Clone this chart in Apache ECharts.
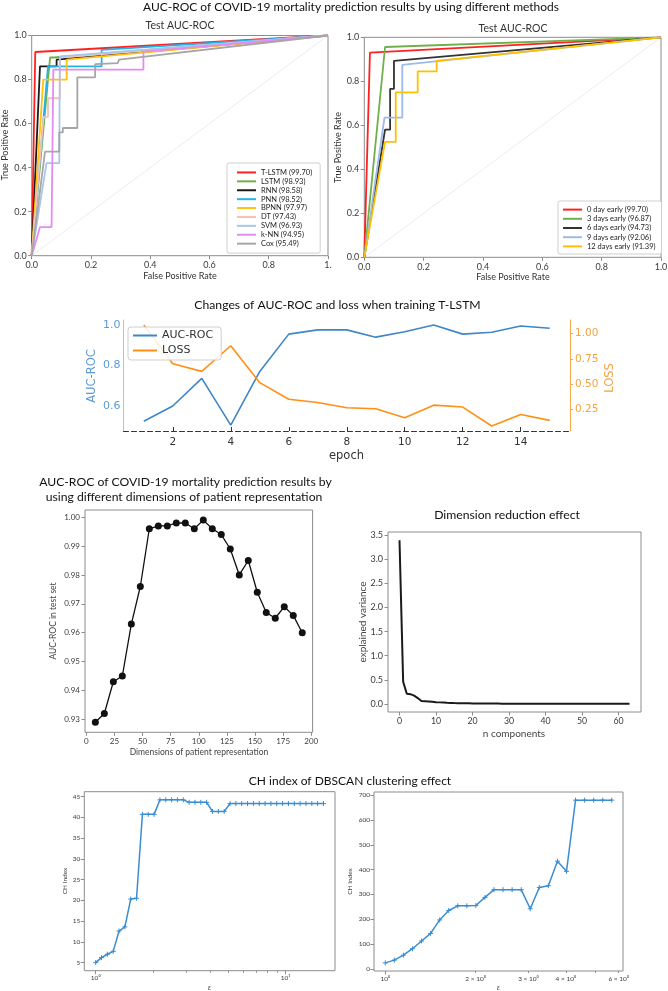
<!DOCTYPE html>
<html>
<head>
<meta charset="utf-8">
<title>COVID-19 mortality prediction figure</title>
<script src="https://cdn.jsdelivr.net/npm/echarts@6.0.0/dist/echarts.min.js"></script>
<style>
html,body{margin:0;padding:0;background:#fff;}
#chart{width:668px;height:991px;}
</style>
</head>
<body>
<div id="chart"></div>
<script>
// ================= DATA =================
const rocChance = [[0, 0], [1, 1]];

const methodNames = ['T-LSTM (99.70)', 'LSTM (98.93)', 'RNN (98.58)', 'PNN (98.52)', 'BPNN (97.97)', 'DT (97.43)', 'SVM (96.93)', 'k-NN (94.95)', 'Cox (95.49)'];
const rocTLSTM = [[0, 0], [0.012, 0.925], [1, 1]];
const rocLSTM = [[0, 0], [0.062, 0.9], [0.075, 0.9], [1, 1]];
const rocRNN = [[0, 0], [0.028, 0.86], [0.084, 0.86], [0.084, 0.89], [1, 1]];
const rocPNN = [[0, 0], [0.055, 0.86], [0.236, 0.86], [0.236, 0.935], [1, 1]];
const rocBPNN = [[0, 0], [0.039, 0.8], [0.118, 0.8], [0.118, 0.89], [1, 1]];
const rocDT = [[0, 0], [0.04, 0.63], [0.055, 0.63], [0.055, 0.715], [0.095, 0.715], [0.095, 0.9], [1, 1]];
const rocSVM = [[0, 0], [0.05, 0.42], [0.093, 0.42], [0.095, 0.905], [1, 1]];
const rocKNN = [[0, 0], [0.028, 0.13], [0.067, 0.13], [0.073, 0.845], [0.377, 0.845], [0.377, 0.927], [1, 1]];
const rocCox = [[0, 0], [0.045, 0.473], [0.093, 0.473], [0.093, 0.56], [0.105, 0.56], [0.105, 0.58], [0.154, 0.58], [0.154, 0.81], [0.214, 0.81], [0.214, 0.87], [0.29, 0.875], [0.295, 0.89], [1, 1]];

const earlyNames = ['0 day early (99.70)', '3 days early (96.87)', '6 days early (94.73)', '9 days early (92.06)', '12 days early (91.39)'];
const roc0d = [[0, 0], [0.019, 0.93], [1, 1]];
const roc3d = [[0, 0], [0.07, 0.956], [1, 1]];
const roc6d = [[0, 0], [0.07, 0.58], [0.087, 0.58], [0.087, 0.766], [0.1, 0.766], [0.1, 0.893], [1, 1]];
const roc9d = [[0, 0], [0.068, 0.635], [0.128, 0.635], [0.128, 0.875], [1, 1]];
const roc12d = [[0, 0], [0.07, 0.525], [0.106, 0.525], [0.106, 0.75], [0.18, 0.75], [0.18, 0.845], [0.244, 0.845], [0.244, 0.893], [1, 1]];

const epochs = [1, 2, 3, 4, 5, 6, 7, 8, 9, 10, 11, 12, 13, 14, 15];
const aucByEpoch = [0.523, 0.599, 0.736, 0.504, 0.77, 0.955, 0.976, 0.976, 0.940, 0.967, 1.0, 0.955, 0.964, 0.995, 0.984];
const lossByEpoch = [1.086, 0.70, 0.625, 0.88, 0.513, 0.348, 0.316, 0.263, 0.253, 0.164, 0.289, 0.27, 0.082, 0.197, 0.138];
const epochTicks = [2, 4, 6, 8, 10, 12, 14];
const aucTicks = [0.6, 0.8, 1.0];
const lossTicks = [0.25, 0.5, 0.75, 1.0];

const dims = [8, 16, 24, 32, 40, 48, 56, 64, 72, 80, 88, 96, 104, 112, 120, 128, 136, 144, 152, 160, 168, 176, 184, 192];
const aucByDim = [0.929, 0.932, 0.943, 0.945, 0.963, 0.976, 0.996, 0.997, 0.997, 0.998, 0.998, 0.996, 0.999, 0.996, 0.994, 0.989, 0.980, 0.985, 0.974, 0.967, 0.965, 0.969, 0.966, 0.960];
const dimTicks = [0, 25, 50, 75, 100, 125, 150, 175, 200];
const dimAucTicks = [0.93, 0.94, 0.95, 0.96, 0.97, 0.98, 0.99, 1.00];

const explainedVariance = [3.40, 0.46, 0.21, 0.20, 0.17, 0.12, 0.06, 0.055, 0.05, 0.045, 0.035, 0.03, 0.026, 0.022, 0.019, 0.016,
  0.014, 0.012, 0.011, 0.010, 0.009, 0.008, 0.007, 0.0065, 0.006, 0.0055, 0.005, 0.0045, 0.004, 0.0038, 0.0035, 0.0033,
  0.003, 0.0028, 0.0026, 0.0024, 0.0022, 0.002, 0.0019, 0.0018, 0.0017, 0.0016, 0.0015, 0.0014, 0.0013, 0.0012, 0.0011, 0.001,
  0.0009, 0.0008, 0.0007, 0.0006, 0.0005, 0.0005, 0.0004, 0.0004, 0.0003, 0.0003, 0.0002, 0.0002, 0.0001, 0.0001, 0.0001, 0.0];
const componentTicks = [0, 10, 20, 30, 40, 50, 60];
const varianceTicks = [0, 0.5, 1.0, 1.5, 2.0, 2.5, 3.0, 3.5];

const chLeftEps = [1.000, 1.073, 1.152, 1.237, 1.327, 1.425, 1.529, 1.641, 1.762, 1.891, 2.030, 2.179, 2.339, 2.510, 2.694, 2.892,
  3.104, 3.332, 3.577, 3.839, 4.121, 4.423, 4.748, 5.096, 5.470, 5.872, 6.303, 6.765, 7.262, 7.795, 8.367, 8.981,
  9.640, 10.35, 11.11, 11.92, 12.80, 13.74, 14.74, 15.83];
const chLeftVals = [5.0, 6.2, 7.0, 7.7, 12.6, 13.6, 20.3, 20.5, 40.7, 40.7, 40.7, 44.2, 44.2, 44.2, 44.2, 44.2,
  43.6, 43.6, 43.6, 43.6, 41.4, 41.4, 41.4, 43.3, 43.3, 43.3, 43.3, 43.3, 43.3, 43.3, 43.3, 43.3,
  43.3, 43.3, 43.3, 43.3, 43.3, 43.3, 43.3, 43.3];
const chLeftYTicks = [5, 10, 15, 20, 25, 30, 35, 40, 45];
const chLeftMajorX = [1, 10];
const chLeftMinorX = [2, 3, 4, 5, 6, 7, 8, 9];

const chRightEps = [1.000, 1.072, 1.149, 1.232, 1.321, 1.416, 1.518, 1.627, 1.744, 1.870, 2.004, 2.149, 2.303, 2.469, 2.647, 2.838,
  3.042, 3.261, 3.496, 3.748, 4.018, 4.307, 4.617, 4.950, 5.306, 5.688];
const chRightVals = [24, 35, 55, 81, 112, 143, 197, 235, 254, 254, 255, 288, 319, 319, 319, 319,
  242, 328, 335, 434, 393, 680, 680, 680, 680, 680];
const chRightYTicks = [0, 100, 200, 300, 400, 500, 600, 700];
const chRightMajorX = [1];
const chRightLabelX = [1, 2, 3, 4, 6];
const chRightMinorX = [2, 3, 4, 5, 6];

// ================= STYLE =================
const FRAME = '#8c8c8c';
const TICKTXT = '#3c3c3c';
const SANS = 'Lato';
const MPL = 'DejaVu Sans';
const methodColors = ['#ff2121', '#6fb04a', '#1a1a1a', '#25b3ee', '#ffc20e', '#f5c0b6', '#a8c6ec', '#e38cf2', '#a6a6a6'];
const earlyColors = ['#ff2121', '#6fb04a', '#333333', '#9dbbe8', '#ffc000'];
const AUC_BLUE = '#3f86c6';
const LOSS_ORANGE = '#ff8f17';
const CH_BLUE = '#3a8dd0';
const PLUS = 'path://M5,0L5,10M0,5L10,5';
const log10 = Math.log10;

function valAxis(o) {
  const a = {
    type: o.type || 'value', gridIndex: o.grid, min: o.min, max: o.max,
    splitLine: {show: false},
    axisLine: {show: !!o.line, onZero: false, lineStyle: o.line || {}},
    axisTick: {show: o.tick !== false, inside: !!o.inside, length: o.tickLen || 3.5,
      lineStyle: {color: o.tickColor || FRAME, width: 1}},
    axisLabel: {show: o.label !== false, margin: (o.margin != null ? o.margin : 5), fontSize: o.fs || 9,
      fontFamily: o.ff || SANS, color: o.color || TICKTXT, formatter: o.fmt, hideOverlap: false},
    axisPointer: {show: false}
  };
  if (o.interval) a.interval = o.interval;
  if (o.ticks) a.axisTick.customValues = o.ticks;
  if (o.labels) a.axisLabel.customValues = o.labels;
  if (o.position) a.position = o.position;
  return a;
}

const grids = [
  {left: 31.7, top: 35.5, width: 296.3, height: 220.2},
  {left: 364.3, top: 37.3, width: 296.7, height: 220},
  {left: 123.5, top: 320, width: 446.5, height: 111, show: false},
  {left: 85, top: 510, width: 227.6, height: 222.3},
  {left: 388, top: 532, width: 253, height: 180},
  {left: 84.3, top: 791.7, width: 250.7, height: 179},
  {left: 374, top: 792, width: 249, height: 179}
].map(g => Object.assign({show: true, borderColor: FRAME, borderWidth: 1, backgroundColor: 'transparent',
  containLabel: false, outerBoundsMode: 'none'}, g));

const fix1 = v => v.toFixed(1);
const fix2 = v => v.toFixed(2);

const xAxes = [
  valAxis({grid: 0, min: 0, max: 1, interval: 0.2, fmt: v => (v > 0.999 ? '1.' : v.toFixed(1))}),
  valAxis({grid: 1, min: 0, max: 1, interval: 0.2, fmt: fix1}),
  valAxis({grid: 2, min: 0.3, max: 15.7, ticks: epochTicks, labels: epochTicks, inside: true, tickLen: 4,
    tickColor: '#333', line: {color: '#333', type: [5, 3], width: 1}, fs: 10.5, ff: MPL, color: '#333', margin: 6,
    fmt: v => String(v)}),
  valAxis({grid: 3, min: -1.2, max: 201.2, ticks: dimTicks, labels: dimTicks, fs: 8, fmt: v => String(v)}),
  valAxis({grid: 4, min: -3.15, max: 66.15, ticks: componentTicks, labels: componentTicks, fs: 8.75, fmt: v => String(v)}),
  // CH left: real log axis carrying the data
  valAxis({grid: 5, type: 'log', min: 0.871, max: 18.2, tick: false, label: false, position: 'bottom'}),
  valAxis({grid: 5, min: log10(0.871), max: log10(18.2), position: 'bottom', ticks: chLeftMajorX.map(log10),
    labels: chLeftMajorX.map(log10), fs: 6.5, margin: 4,
    fmt: v => (Math.round(Math.pow(10, v)) === 1 ? '10\u2070' : '10\u00b9')}),
  valAxis({grid: 5, min: log10(0.871), max: log10(18.2), position: 'bottom', ticks: chLeftMinorX.map(log10),
    tickLen: 2, label: false}),
  // CH right
  valAxis({grid: 6, type: 'log', min: 0.917, max: 6.2, tick: false, label: false, position: 'bottom'}),
  valAxis({grid: 6, min: log10(0.917), max: log10(6.2), position: 'bottom', ticks: chRightMajorX.map(log10),
    labels: chRightLabelX.map(log10), fs: 6.5, margin: 4,
    fmt: v => { const n = Math.round(Math.pow(10, v)); return n === 1 ? '10\u2070' : n + ' \u00d7 10\u2070'; }}),
  valAxis({grid: 6, min: log10(0.917), max: log10(6.2), position: 'bottom', ticks: chRightMinorX.map(log10),
    tickLen: 2, label: false})
];

const yAxes = [
  valAxis({grid: 0, min: 0, max: 1, interval: 0.2, fmt: fix1}),
  valAxis({grid: 1, min: 0, max: 1, interval: 0.2, fmt: fix1}),
  valAxis({grid: 2, min: 0.475, max: 1.025, position: 'left', ticks: aucTicks, labels: aucTicks, tick: false,
    line: {color: '#a9c5e2', width: 1}, fs: 11, ff: MPL, color: '#5b9bd5', margin: 3, fmt: fix1}),
  valAxis({grid: 2, min: 0.032, max: 1.136, position: 'right', ticks: lossTicks, labels: lossTicks, tickLen: 3,
    tickColor: '#f7a848', line: {color: '#f7a848', width: 1}, fs: 10.5, ff: MPL, color: '#f5a340', margin: 5, fmt: fix2}),
  valAxis({grid: 3, min: 0.9255, max: 1.0025, ticks: dimAucTicks, labels: dimAucTicks, fs: 8, fmt: fix2}),
  valAxis({grid: 4, min: -0.17, max: 3.57, ticks: varianceTicks, labels: varianceTicks, fs: 9, fmt: fix1}),
  valAxis({grid: 5, min: 3.04, max: 46.16, ticks: chLeftYTicks, labels: chLeftYTicks, fs: 6.5, margin: 4, fmt: v => String(v)}),
  valAxis({grid: 6, min: -8.8, max: 712.8, ticks: chRightYTicks, labels: chRightYTicks, fs: 6.5, margin: 4, fmt: v => String(v)})
];

function line(name, data, color, xi, yi, extra) {
  return Object.assign({
    type: 'line', name, data, xAxisIndex: xi, yAxisIndex: yi, symbol: 'none', showSymbol: false,
    lineStyle: {width: 1.8, color}, itemStyle: {color}, silent: true, animation: false
  }, extra || {});
}

const methodData = [rocTLSTM, rocLSTM, rocRNN, rocPNN, rocBPNN, rocDT, rocSVM, rocKNN, rocCox];
const earlyData = [roc0d, roc3d, roc6d, roc9d, roc12d];

const series = [];
series.push(line('chance-1', rocChance, '#ececec', 0, 0, {lineStyle: {width: 1, color: '#ececec'}}));
methodNames.forEach((n, i) => series.push(line(n, methodData[i], methodColors[i], 0, 0)));
series.push(line('chance-2', rocChance, '#ececec', 1, 1, {lineStyle: {width: 1, color: '#ececec'}}));
earlyNames.forEach((n, i) => series.push(line(n, earlyData[i], earlyColors[i], 1, 1)));

series.push(line('AUC-ROC', epochs.map((e, i) => [e, aucByEpoch[i]]), AUC_BLUE, 2, 2, {lineStyle: {width: 1.6, color: AUC_BLUE}}));
series.push(line('LOSS', epochs.map((e, i) => [e, lossByEpoch[i]]), LOSS_ORANGE, 2, 3, {lineStyle: {width: 1.6, color: LOSS_ORANGE}}));

series.push(line('dimension-auc', dims.map((d, i) => [d, aucByDim[i]]), '#111', 3, 4, {
  symbol: 'circle', showSymbol: true, symbolSize: 7, lineStyle: {width: 1.3, color: '#111'}, itemStyle: {color: '#111'}}));

series.push(line('explained-variance', explainedVariance.map((v, i) => [i, v]), '#1a1a1a', 4, 5, {lineStyle: {width: 2, color: '#1a1a1a'}}));

series.push(line('ch-left', chLeftEps.map((e, i) => [e, chLeftVals[i]]), CH_BLUE, 5, 6, {
  symbol: PLUS, showSymbol: true, symbolSize: 5, lineStyle: {width: 1.5, color: CH_BLUE},
  itemStyle: {color: 'rgba(0,0,0,0)', borderColor: CH_BLUE, borderWidth: 1}}));
series.push(line('ch-right', chRightEps.map((e, i) => [e, chRightVals[i]]), CH_BLUE, 8, 7, {
  symbol: PLUS, showSymbol: true, symbolSize: 5, lineStyle: {width: 1.5, color: CH_BLUE},
  itemStyle: {color: 'rgba(0,0,0,0)', borderColor: CH_BLUE, borderWidth: 1}}));

const legendBase = {orient: 'vertical', icon: 'rect', selectedMode: false, itemStyle: {borderWidth: 0},
  borderColor: '#cfcfcf', borderWidth: 1, borderRadius: 2, backgroundColor: '#ffffff'};
const legends = [
  Object.assign({}, legendBase, {data: methodNames, left: 227, top: 163, itemWidth: 19, itemHeight: 2, itemGap: 0,
    padding: [5, 8, 5, 10], textStyle: {fontSize: 7.5, lineHeight: 8.9, color: '#222', fontFamily: SANS}}),
  Object.assign({}, legendBase, {data: earlyNames, left: 558, top: 201, itemWidth: 19, itemHeight: 2, itemGap: 0,
    padding: [4, 6, 3, 5], textStyle: {fontSize: 7.5, lineHeight: 9.2, color: '#222', fontFamily: SANS}}),
  Object.assign({}, legendBase, {data: ['AUC-ROC', 'LOSS'], left: 128, top: 327, itemWidth: 24, itemHeight: 2, itemGap: 2,
    padding: [2, 8, 3, 5], borderRadius: 3, backgroundColor: 'rgba(255,255,255,0.85)',
    textStyle: {fontSize: 11, lineHeight: 13, color: '#333', fontFamily: MPL}})
];

const texts = [
  ['AUC-ROC of COVID-19 mortality prediction results by using different methods', 351, 7, 12, {}],
  ['Test AUC-ROC', 180, 26, 10.5, {color: '#333'}],
  ['Test AUC-ROC', 513, 28.5, 10.5, {color: '#333'}],
  ['True Positive Rate', 5.5, 145, 9, {rot: 90, color: '#333'}],
  ['True Positive Rate', 338, 147.5, 9, {rot: 90, color: '#333'}],
  ['False Positive Rate', 180, 276, 9, {color: '#333'}],
  ['False Positive Rate', 513, 277, 9, {color: '#333'}],
  ['Changes of AUC-ROC and loss when training T-LSTM', 337.5, 305, 12.2, {}],
  ['AUC-ROC', 92, 376, 11.5, {rot: 90, color: '#5b9bd5', family: MPL}],
  ['LOSS', 610, 378, 11.5, {rot: 90, color: '#f5a340', family: MPL}],
  ['epoch', 346.5, 456, 11.5, {family: MPL, color: '#333'}],
  ['AUC-ROC of COVID-19 mortality prediction results by', 185.5, 482, 12.2, {}],
  ['using different dimensions of patient representation', 184, 497.5, 12.2, {}],
  ['AUC-ROC in test set', 53, 621, 8.5, {rot: 90, color: '#444'}],
  ['Dimensions of patient representation', 199, 752.5, 8.5, {color: '#444'}],
  ['Dimension reduction effect', 507, 515, 12.2, {}],
  ['explained variance', 363, 622, 10, {rot: 90, color: '#444'}],
  ['n components', 514, 733.5, 10, {color: '#444'}],
  ['CH index of DBSCAN clustering effect', 350, 781, 12, {}],
  ['CH Index', 65, 881, 6.5, {rot: 90, color: '#444'}],
  ['CH Index', 349.5, 881.5, 6.5, {rot: 90, color: '#444'}],
  ['\u03b5', 209.5, 988, 7, {color: '#444', italic: true}],
  ['\u03b5', 498.5, 988, 7, {color: '#444', italic: true}]
];

const graphicEls = texts.map(([t, x, y, fs, o]) => ({
  type: 'text', x, y, rotation: (o.rot || 0) * Math.PI / 180, silent: true, z: 100,
  style: {text: t, fill: o.color || '#111111', fontSize: fs, fontFamily: o.family || SANS,
    fontStyle: o.italic ? 'italic' : 'normal', align: 'center', verticalAlign: 'middle'}
}));

const option = {
  animation: false,
  backgroundColor: '#ffffff',
  textStyle: {fontFamily: SANS},
  tooltip: {show: false},
  grid: grids,
  xAxis: xAxes,
  yAxis: yAxes,
  legend: legends,
  series: series,
  graphic: {elements: graphicEls}
};

const chart = echarts.init(document.getElementById('chart'), null, {renderer: 'canvas', width: 668, height: 991});
chart.setOption(option);
</script>
</body>
</html>
